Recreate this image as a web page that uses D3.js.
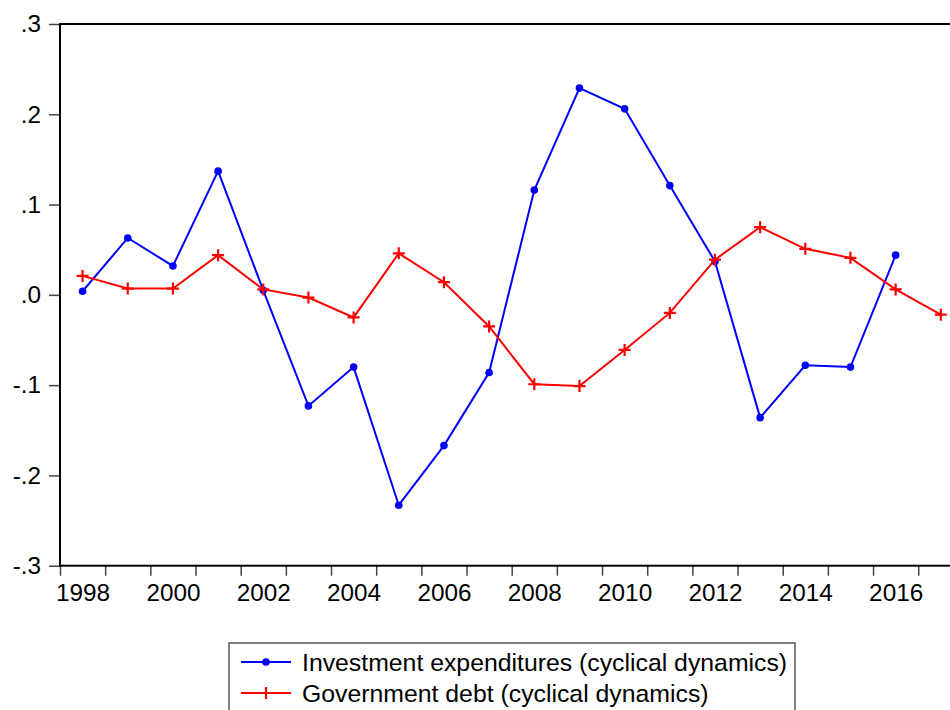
<!DOCTYPE html>
<html>
<head>
<meta charset="utf-8">
<script src="https://cdn.jsdelivr.net/npm/d3@7"></script>
<style>
 body { margin: 0; background: #fff; }
 svg { display: block; font-family: "Liberation Sans", Arial, sans-serif; }
</style>
</head>
<body>
<svg width="950" height="710"></svg>
<script>
// Data.

var years = [1998, 1999, 2000, 2001, 2002, 2003, 2004, 2005, 2006, 2007,
 2008, 2009, 2010, 2011, 2012, 2013, 2014, 2015, 2016, 2017];
var investment = [0.004, 0.063, 0.032, 0.137, 0.005, -0.123, -0.080, -0.233, -0.167, -0.086,
 0.116, 0.229, 0.206, 0.121, 0.037, -0.136, -0.078, -0.080, 0.044];
var debt = [0.021, 0.007, 0.007, 0.044, 0.006, -0.003, -0.025, 0.046, 0.014, -0.035,
 -0.099, -0.101, -0.061, -0.020, 0.039, 0.075, 0.051, 0.041, 0.006, -0.022];
var yTicks = [-0.3, -0.2, -0.1, 0, 0.1, 0.2, 0.3];
var xLabels = [1998, 2000, 2002, 2004, 2006, 2008, 2010, 2012, 2014, 2016];
var legendLabels = ['Investment expenditures (cyclical dynamics)', 'Government debt (cyclical dynamics)'];

var svg = d3.select('svg');
var plotLeft = 60, plotTop = 24, plotBottom = 565.7, step = 45.17;

// Scales: each year fills one band, points sit in the middle of it.

var x = d3.scaleLinear()
.domain([1998, 2018])
.range([plotLeft, plotLeft + 20 * step]);

var y = d3.scaleLinear()
.domain([-0.3, 0.3])
.range([plotBottom, plotTop]);

var fmt = function(d) { return d3.format('.1f')(d).replace('\u2212', '-').replace('0.', '.'); };

// Axes.

var yAxis = svg.append('g')
.attr('transform', 'translate(' + plotLeft + ',0)')
.call(d3.axisLeft(y).tickValues(yTicks).tickFormat(fmt).tickSize(11).tickPadding(8));

var xAxis = svg.append('g')
.attr('transform', 'translate(0,' + plotBottom + ')')
.call(d3.axisBottom(x).tickValues(years).tickFormat('').tickSize(10));

var xText = svg.append('g')
.attr('transform', 'translate(0,' + plotBottom + ')')
.call(d3.axisBottom(x)
 .tickValues(xLabels.map(function(d) { return d + 0.5; }))
 .tickFormat(function(d) { return Math.floor(d); })
 .tickSize(0)
 .tickPadding(18));

[yAxis, xAxis, xText].forEach(function(g) {
 g.select('.domain').remove();
 g.selectAll('line').attr('stroke', '#444').attr('stroke-width', 1.5);
 g.selectAll('text').attr('font-size', 24.3).attr('font-family', '"Liberation Sans", Arial, sans-serif').attr('fill', '#000');
});

// Plot frame (runs off the right edge like the original).

svg.append('rect')
.attr('x', x(1998))
.attr('y', y(0.3))
.attr('width', x(2018) - x(1998))
.attr('height', y(-0.3) - y(0.3))
.attr('fill', 'none')
.attr('stroke', '#000')
.attr('stroke-width', 2);

// Lines and markers.

var line = d3.line()
.x(function(d, i) { return x(years[i] + 0.5); })
.y(function(d) { return y(d); });

var plus = 'M-6,0H6M0,-6V6';

svg.append('path')
.datum(investment)
.attr('d', line)
.attr('fill', 'none')
.attr('stroke', '#0000ff')
.attr('stroke-width', 2);

svg.append('g')
.selectAll('circle')
.data(investment)
.enter().append('circle')
.attr('cx', function(d, i) { return x(years[i] + 0.5); })
.attr('cy', function(d) { return y(d); })
.attr('r', 3.8)
.attr('fill', '#0000ff');

svg.append('path')
.datum(debt)
.attr('d', line)
.attr('fill', 'none')
.attr('stroke', '#ff0000')
.attr('stroke-width', 2);

svg.append('g')
.selectAll('path')
.data(debt)
.enter().append('path')
.attr('transform', function(d, i) { return 'translate(' + x(years[i] + 0.5) + ',' + y(d) + ')'; })
.attr('d', plus)
.attr('stroke', '#ff0000')
.attr('stroke-width', 2.2);

// Legend.

var legend = svg.append('g');

legend.append('rect')
.attr('x', 229)
.attr('y', 643)
.attr('width', 566)
.attr('height', 90)
.attr('fill', 'none')
.attr('stroke', '#555')
.attr('stroke-width', 1.5);

var colors = ['#0000ff', '#ff0000'];

var item = legend.selectAll('.item')
.data(legendLabels)
.enter().append('g')
.attr('class', 'item')
.attr('transform', function(d, i) { return 'translate(241,' + (662 + i * 31) + ')'; });

item.append('line')
.attr('x1', 0)
.attr('x2', 50)
.attr('stroke', function(d, i) { return colors[i]; })
.attr('stroke-width', 2);

item.filter(function(d, i) { return i === 0; })
.append('circle')
.attr('cx', 25)
.attr('r', 3.8)
.attr('fill', colors[0]);

item.filter(function(d, i) { return i === 1; })
.append('path')
.attr('transform', 'translate(25,0)')
.attr('d', plus)
.attr('stroke', colors[1])
.attr('stroke-width', 2.2);

item.append('text')
.attr('x', 61)
.attr('dy', '0.35em')
.attr('font-size', 24.8)
.attr('fill', '#000')
.text(function(d) { return d; });
</script>
</body>
</html>
